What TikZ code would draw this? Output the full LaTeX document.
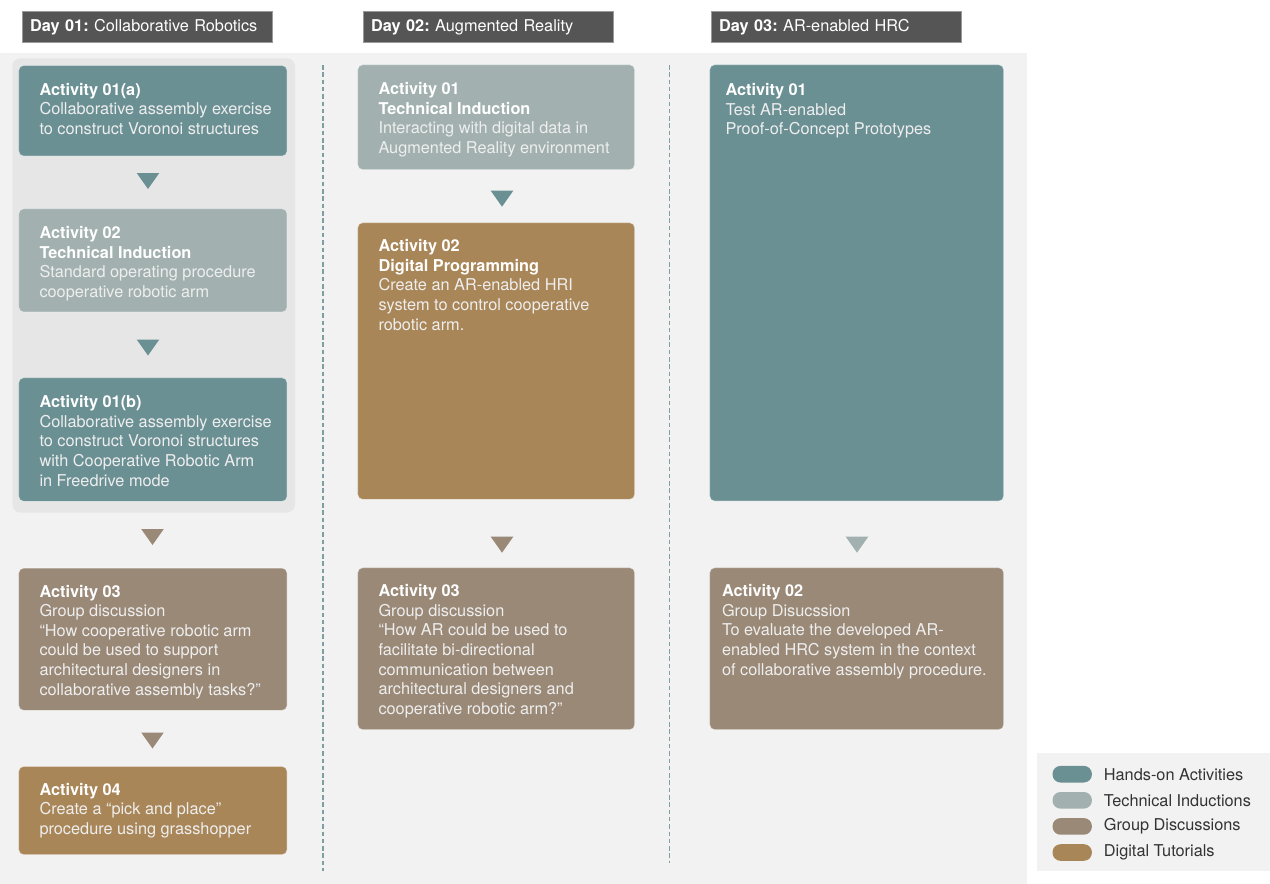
\documentclass[tikz,border=0pt]{standalone}
\usepackage{fontspec}
\setmainfont{TeX Gyre Heros}
\usetikzlibrary{positioning}
\frenchspacing

\definecolor{handson}{HTML}{6B9094}
\definecolor{techind}{HTML}{A2B1B0}
\definecolor{groupdisc}{HTML}{9A8977}
\definecolor{digital}{HTML}{A98658}
\definecolor{headfill}{HTML}{555555}
\definecolor{headline}{HTML}{9A9A9A}
\definecolor{panelbg}{HTML}{F2F2F2}
\definecolor{groupbg}{HTML}{E6E6E6}
\definecolor{cardbody}{HTML}{EEEEEE}
\definecolor{legendink}{HTML}{333333}
\definecolor{dividerink}{HTML}{7D9EA2}

\tikzset{
  card/.style = {anchor=north west, rounded corners=5pt, inner sep=0pt,
                 draw=white, draw opacity=0.45, line width=0.8pt},
  cardtext/.style = {anchor=north west, inner sep=0pt, align=left,
                     text=cardbody, font=\fontsize{16.3}{19.6}\selectfont},
  dayhead/.style = {anchor=north west, fill=headfill, draw=headline, line width=0.8pt,
                    text=white, text width=234pt, inner xsep=8pt, align=left,
                    minimum height=31.3pt, font=\fontsize{16.3}{19.6}\selectfont},
  divider/.style = {dividerink, line width=1.6pt, dash pattern=on 4.5pt off 2.8pt},
  swatch/.style = {anchor=north west, rounded corners=8pt, inner sep=0pt,
                   minimum width=39.4pt, minimum height=16.6pt},
  legendtext/.style = {anchor=west, inner sep=0pt, text=legendink,
                       font=\fontsize{16.3}{19.6}\selectfont}
}

\newcommand{\acttitle}[1]{\textcolor{white}{\bfseries #1}}
\newcommand{\flowtri}[3]{\fill[#1] (#2,#3) -- ++(22.6,0) -- ++(-11.3,16) -- cycle;}

\begin{document}
\begin{tikzpicture}[x=1pt, y=-1pt]
  \useasboundingbox (0,0) rectangle (1270,884);
  \fill[white] (0,0) rectangle (1270,884);

  % panels
  \fill[panelbg] (0,53.3) rectangle (1027,884);
  \fill[groupbg, rounded corners=8pt] (12.3,58.3) rectangle (295,512.5);
  \draw[divider] (322.7,65) -- (322.7,871);
  \draw[divider] (669.3,65) -- (669.3,863);

  % day headers
  \node[dayhead] (day1) at (21.7,11)  {\textbf{Day 01:} Collaborative Robotics};
  \node[dayhead] (day2) at (362.7,11) {\textbf{Day 02:} Augmented Reality};
  \node[dayhead] (day3) at (710.7,11) {\textbf{Day 03:} AR-enabled HRC};

  % day 01
  \node[card, fill=handson, minimum width=268.4pt, minimum height=90.7pt] (d1a1) at (18.3,65) {};
  \node[cardtext] (d1a1t) at ([shift={(21,18)}]d1a1.north west)
    {\acttitle{Activity 01(a)}\\
     Collaborative assembly exercise\\
     to construct Voronoi structures};
  \flowtri{handson}{136.7}{173}

  \node[card, fill=techind, minimum width=268.4pt, minimum height=103.4pt] (d1a2) at (18.3,208.3) {};
  \node[cardtext] (d1a2t) at ([shift={(21,18)}]d1a2.north west)
    {\acttitle{Activity 02}\\
     \acttitle{Technical Induction}\\
     Standard operating procedure\\
     cooperative robotic arm};
  \flowtri{handson}{136.7}{339.5}

  \node[card, fill=handson, minimum width=268.4pt, minimum height=123.7pt] (d1a3) at (18.3,377.3) {};
  \node[cardtext] (d1a3t) at ([shift={(21,18)}]d1a3.north west)
    {\acttitle{Activity 01(b)}\\
     Collaborative assembly exercise\\
     to construct Voronoi structures\\
     with Cooperative Robotic Arm\\
     in Freedrive mode};
  \flowtri{groupdisc}{141.2}{529}

  \node[card, fill=groupdisc, minimum width=268.4pt, minimum height=142.3pt] (d1a4) at (18.3,567.7) {};
  \node[cardtext] (d1a4t) at ([shift={(21,17)}]d1a4.north west)
    {\acttitle{Activity 03}\\
     Group discussion\\
     “How cooperative robotic arm\\
     could be used to support\\
     architectural designers in\\
     collaborative assembly tasks?"};
  \flowtri{groupdisc}{141.2}{732.5}

  \node[card, fill=digital, minimum width=268.4pt, minimum height=88.3pt] (d1a5) at (18.3,766) {};
  \node[cardtext] (d1a5t) at ([shift={(21,17)}]d1a5.north west)
    {\acttitle{Activity 04}\\
     Create a “pick and place”\\
     procedure using grasshopper};

  % day 02
  \node[card, fill=techind, minimum width=277pt, minimum height=105pt] (d2a1) at (357.3,64.3) {};
  \node[cardtext] (d2a1t) at ([shift={(21,18)}]d2a1.north west)
    {\acttitle{Activity 01}\\
     \acttitle{Technical Induction}\\
     Interacting with digital data in\\
     Augmented Reality environment};
  \flowtri{handson}{490.7}{190.7}

  \node[card, fill=digital, minimum width=277pt, minimum height=276.7pt] (d2a2) at (357.3,222.3) {};
  \node[cardtext] (d2a2t) at ([shift={(21,17)}]d2a2.north west)
    {\acttitle{Activity 02}\\
     \acttitle{Digital Programming}\\
     Create an AR-enabled HRI\\
     system to control cooperative\\
     robotic arm.};
  \flowtri{groupdisc}{490.7}{536.7}

  \node[card, fill=groupdisc, minimum width=277pt, minimum height=162pt] (d2a3) at (357.3,567.3) {};
  \node[cardtext] (d2a3t) at ([shift={(21,17)}]d2a3.north west)
    {\acttitle{Activity 03}\\
     Group discussion\\
     “How AR could be used to\\
     facilitate bi-directional\\
     communication between\\
     architectural designers and\\
     cooperative robotic arm?"};

  % day 03
  \node[card, fill=handson, minimum width=294pt, minimum height=436.4pt] (d3a1) at (709.3,64.3) {};
  \node[cardtext] (d3a1t) at ([shift={(16,19)}]d3a1.north west)
    {\acttitle{Activity 01}\\
     Test AR-enabled\\
     Proof-of-Concept Prototypes};
  \flowtri{techind}{845.7}{536.7}

  \node[card, fill=groupdisc, minimum width=294pt, minimum height=162pt] (d3a2) at (709.3,567.3) {};
  \node[cardtext] (d3a2t) at ([shift={(12.5,17)}]d3a2.north west)
    {\acttitle{Activity 02}\\
     Group Disucssion\\
     To evaluate the developed AR-\\
     enabled HRC system in the context\\
     of collaborative assembly procedure.};

  % legend
  \node[anchor=north west, fill=panelbg, inner sep=0pt, minimum width=233.3pt, minimum height=118.4pt] (legend) at (1036.7,752.3) {};
  \foreach \col/\lab [count=\i] in {handson/Hands-on Activities, techind/Technical Inductions,
                                     groupdisc/Group Discussions, digital/Digital Tutorials} {
    \node[swatch, fill=\col] (sw\i) at (1052.3,{765.7+26.1*(\i-1)}) {};
    \node[legendtext] (lab\i) at ([xshift=11.6pt]sw\i.east) {\lab};
  }
\end{tikzpicture}
\end{document}
